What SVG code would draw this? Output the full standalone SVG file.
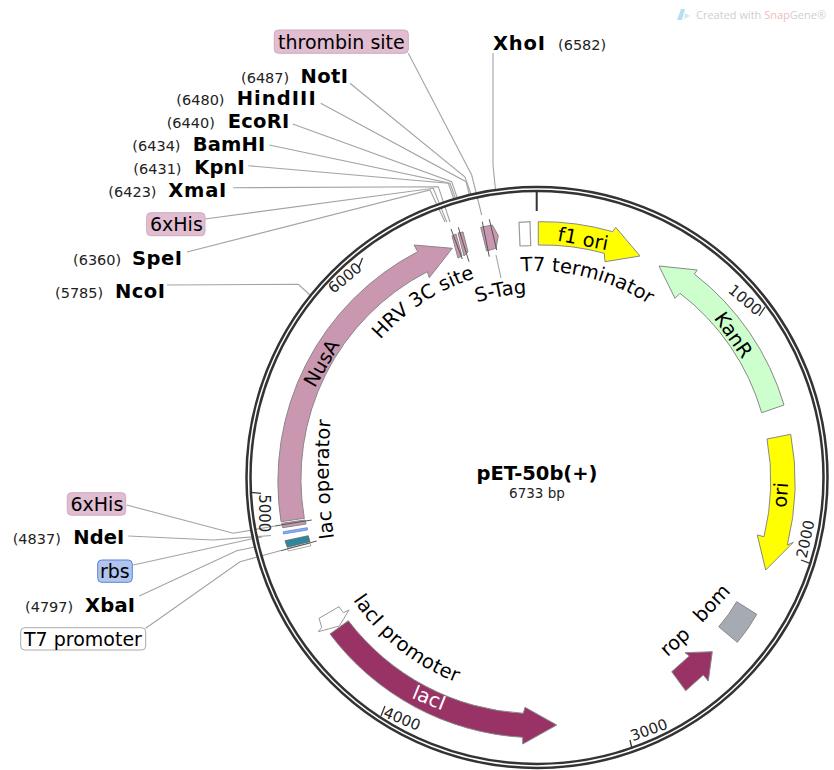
<svg xmlns="http://www.w3.org/2000/svg" width="834" height="770" viewBox="0 0 834 770">
<style>
text{font-family:"DejaVu Sans",Verdana,sans-serif;fill:#000}
.e{font-weight:bold;font-size:19.500px}
.p{font-size:14.500px;fill:#222}
.l{font-size:19.500px}
.b{font-size:19px}
.t{font-size:15px;fill:#222}
.f{stroke:#888;stroke-width:1}
.box{stroke-width:1}
.ld{fill:none;stroke:#a3a3a3;stroke-width:1.1}
.dk{fill:none;stroke:#555;stroke-width:1}
.tick{stroke:#333;stroke-width:1.3}
.m{text-anchor:middle;dominant-baseline:central}
</style>
<defs>
<path id="pT7" d="M521,271.6 A206 206 0 0 1 714.9,374"/>
<path id="pHRV" d="M380.3,339.7 A208 208 0 0 1 518.4,269.8"/>
<path id="pST" d="M477,302.500 A183 183 0 0 1 560,295"/>
<path id="pLO" d="M334,538 A500 500 0 0 1 333,400"/>
<path id="pLP" d="M353,600 A220 220 0 0 0 536.5,697"/>
</defs>
<rect width="834" height="770" fill="#fff"/>
<g id="watermark">
<path d="M677,20 L681,9 L685,9 L682,20 Z" fill="#b5e0f2"/>
<path d="M685,13 L690,16 L684,19 Z" fill="#cfe9f5"/>
<text x="696" y="18.500" font-size="11" style="font-family:'Open Sans',sans-serif;fill:#cfcfcf">Created with <tspan style="fill:#f0bcbc">Snap</tspan>Gene®</text>
</g>
<g id="connectors">
<polyline class="ld" points="408.300,53.300 471.700,175 481.700,215"/>
<polyline class="ld" points="493,53 493,165 495.500,190"/>
<polyline class="ld" points="350,83.300 465,177 472,197"/>
<polyline class="ld" points="320.700,103.300 466,181.700 470,197"/>
<polyline class="ld" points="292.700,124 451.700,181.700 458,200"/>
<polyline class="ld" points="269.300,145 450,183.300 456.700,202"/>
<polyline class="ld" points="248.300,165.700 448.300,183.300 455,202"/>
<polyline class="ld" points="233.300,187.700 438.300,186.700 450,222"/>
<polyline class="ld" points="205,219 433.300,188.300 446.700,222"/>
<polyline class="ld" points="187,252 430,190 445,222"/>
<polyline class="ld" points="167,285 298.300,284.300 310,295"/>
<line class="ld" x1="496" y1="255" x2="501" y2="278"/>
<polyline class="ld" points="126.700,505 233.300,533.300 275,526"/>
<polyline class="ld" points="128.300,536 213.300,540 271,535.500"/>
<polyline class="ld" points="133.300,565 250,539.300 262,537"/>
<polyline class="ld" points="139.300,596 236.700,550.700 255,547"/>
<polyline class="ld" points="145.700,628.300 240,561.700 281,550.500"/>
</g>
<g id="backbone">
<circle cx="537" cy="477.500" r="288.500" fill="none" stroke="#333" stroke-width="6.500"/>
<circle cx="537" cy="477.500" r="288.500" fill="none" stroke="#fff" stroke-width="1.500"/>
<line x1="536.700" y1="190" x2="536.700" y2="211" stroke="#333" stroke-width="2"/>
<line class="tick" x1="362.500" y1="258" x2="358.500" y2="268"/>
<text class="t m" transform="translate(345 278) rotate(-40)">6000</text>
<line class="tick" x1="765" y1="307" x2="759" y2="316"/>
<text class="t m" transform="translate(745 300) rotate(40)">1000</text>
<line class="tick" x1="810" y1="563.300" x2="801" y2="560"/>
<text class="t m" transform="translate(805.700 539) rotate(-78)">2000</text>
<line class="tick" x1="632" y1="749" x2="630" y2="740"/>
<text class="t m" transform="translate(649 730) rotate(-20)">3000</text>
<line class="tick" x1="385" y1="706" x2="381" y2="716"/>
<text class="t m" transform="translate(402 719) rotate(22)">4000</text>
<line class="tick" x1="250" y1="492.300" x2="261" y2="493.300"/>
<text class="t m" transform="translate(264.300 513.300) rotate(90)">5000</text>
</g>
<g id="f1-ori">
<path class="f" fill="#ffff00" d="M538.300,221.700 A255 255 0 0 1 612.700,231.700 L615.700,227.300 L640,256 L605,261.700 L604.300,253.300 A232 232 0 0 0 538.300,245 Z"/>
<text class="l m" transform="translate(583 239) rotate(11)">f1 ori</text>
</g>
<g id="KanR">
<path class="f" fill="#ccffcc" d="M784,405 A258 258 0 0 0 694.300,274 L697.300,270 L659,266 L675,298.300 L680,293.300 A232 232 0 0 1 761.700,412.700 Z"/>
<text class="l m" transform="translate(733.300 335) rotate(55)">KanR</text>
</g>
<g id="ori">
<path class="f" fill="#ffff00" d="M790.700,434.300 A258 258 0 0 1 787.300,545 L793.300,542.300 L765.700,570 L757.300,535 L764,536.700 A234 234 0 0 0 767,439 Z"/>
<text class="l m" transform="translate(780.700 495) rotate(-86)">ori</text>
</g>
<g id="bom">
<path class="f" fill="#a6abb3" d="M736.700,601.700 L756.700,614.300 Q748,630 737.300,642.300 L718.700,626.700 Q729,615 736.700,601.700 Z"/>
<text class="l m" transform="translate(711.700 603.300) rotate(-47)">bom</text>
</g>
<g id="rop">
<path class="f" fill="#993366" d="M685,652.700 L712.300,651.700 L708.300,681 L703.300,675 L685.700,690.700 L671.700,671.700 L689.300,656 Z"/>
<text class="l m" transform="translate(675 641.700) rotate(-42)">rop</text>
</g>
<g id="lacI">
<path class="f" fill="#993366" d="M348.300,620.700 A236 236 0 0 0 523.300,713.300 L525,707.300 L556.700,725 L522.700,744 L522.700,737.300 A260 260 0 0 1 330,634 Z"/>
<text class="l m" transform="translate(429 698) rotate(22)" style="fill:#fff">lacI</text>
</g>
<g id="lacI-promoter">
<path fill="#fff" stroke="#999" d="M319,618.300 L339,606.700 L343.300,612.700 L349,610 L339.300,626 L318.300,631.700 L321.700,627.300 Z"/>
<text class="l" letter-spacing=".3"><textPath href="#pLP">lacI promoter</textPath></text>
</g>
<g id="NusA">
<path class="f" fill="#c997b0" d="M281,521.700 A259 259 0 0 1 417.700,251.700 L414,245 L452.300,248.300 L429.300,277.700 L427.300,271.700 A233 233 0 0 0 304.300,518.300 Z"/>
<text class="l m" transform="translate(321.700 363.300) rotate(-60)">NusA</text>
</g>
<g id="HRV-3C-site">
<path class="f" fill="#c997b0" d="M452,236 L456,234 L462,256 L458,258 Z"/>
<path class="f" fill="#c997b0" d="M458,233 L463,232 L468,252 L464,256 Z"/>
<line class="dk" x1="451" y1="229" x2="462.300" y2="259"/>
<line class="dk" x1="458.300" y1="227.300" x2="469" y2="261.700"/>
<text class="l"><textPath href="#pHRV">HRV 3C site</textPath></text>
</g>
<g id="S-Tag">
<path class="f" fill="#c997b0" d="M480.700,227.300 L492.300,225 L498.300,235.700 L496,248.300 L486.700,251 Z"/>
<line class="dk" x1="482.300" y1="221.700" x2="489.300" y2="256.700"/>
<line class="dk" x1="489.300" y1="219.300" x2="496.700" y2="250"/>
<text class="l"><textPath href="#pST">S-Tag</textPath></text>
</g>
<g id="T7-terminator">
<path fill="#fff" stroke="#999" stroke-width="1.200" d="M519,222.300 L530,221.700 L530.700,245.700 L520,246 Z"/>
<text class="l"><textPath href="#pT7">T7 terminator</textPath></text>
</g>
<g id="lac-operator">
<path class="f" fill="#c997b0" d="M281.700,523.300 L305,520 L306,524 L282.700,527.700 Z"/>
<line class="dk" x1="275" y1="526" x2="311.700" y2="520"/>
<text class="l"><textPath href="#pLO">lac operator</textPath></text>
</g>
<g id="rbs-feature">
<path fill="#8fb0ea" stroke="#5b82d8" stroke-width=".8" d="M283.300,531.700 L307.300,527.700 L307.300,530 L283.300,534 Z"/>
</g>
<g id="T7-promoter-feature">
<path fill="#2e86a0" stroke="#666" stroke-width=".8" d="M285,540.700 L308.300,535.700 L310,541.700 L287.300,547.300 Z"/>
<path fill="#fff" stroke="#999" stroke-width=".8" d="M287.300,548.300 L310,543.300 L311,545.700 L288.300,551 Z"/>
<line class="dk" x1="281" y1="550.700" x2="316.700" y2="541"/>
</g>
<g id="label-thrombin">
<rect class="box" x="274.300" y="30" width="134" height="23.300" rx="4" fill="#e0bdd0" stroke="#d0a9bf"/>
<text class="b" x="278" y="49">thrombin site</text>
</g>
<g id="label-XhoI"><text class="e" x="493" y="50" textLength="52">XhoI</text><text class="p" x="558" y="50">(6582)</text></g>
<g id="label-NotI"><text class="p" x="241" y="83">(6487)</text><text class="e" x="300.500" y="83" textLength="47.500">NotI</text></g>
<g id="label-HindIII"><text class="p" x="176.300" y="105">(6480)</text><text class="e" x="236.700" y="105" textLength="79">HindIII</text></g>
<g id="label-EcoRI"><text class="p" x="166.700" y="128.300">(6440)</text><text class="e" x="227.700" y="128.300" textLength="61.500">EcoRI</text></g>
<g id="label-BamHI"><text class="p" x="132.300" y="151">(6434)</text><text class="e" x="192.700" y="151" textLength="72.500">BamHI</text></g>
<g id="label-KpnI"><text class="p" x="133.300" y="174.300">(6431)</text><text class="e" x="194.300" y="174.300" textLength="50.500">KpnI</text></g>
<g id="label-XmaI"><text class="p" x="108.300" y="196.700">(6423)</text><text class="e" x="168.300" y="196.700" textLength="58">XmaI</text></g>
<g id="label-6xHis-top">
<rect class="box" x="146.700" y="212.700" width="58.300" height="23" rx="4" fill="#e0bdd0" stroke="#d0a9bf"/>
<text class="b" x="150" y="231">6xHis</text>
</g>
<g id="label-SpeI"><text class="p" x="73" y="265">(6360)</text><text class="e" x="132" y="265" textLength="50">SpeI</text></g>
<g id="label-NcoI"><text class="p" x="55" y="298">(5785)</text><text class="e" x="115" y="298" textLength="50">NcoI</text></g>
<g id="label-6xHis-bottom">
<rect class="box" x="67.300" y="492.700" width="58.400" height="22.500" rx="4" fill="#e0bdd0" stroke="#d0a9bf"/>
<text class="b" x="70.500" y="511">6xHis</text>
</g>
<g id="label-NdeI"><text class="p" x="12.700" y="544">(4837)</text><text class="e" x="73.300" y="544" textLength="51">NdeI</text></g>
<g id="label-rbs">
<rect class="box" x="97.700" y="560" width="34.600" height="22.300" rx="4" fill="#b0c4ee" stroke="#5b82d8"/>
<text class="b" x="100" y="578">rbs</text>
</g>
<g id="label-XbaI"><text class="p" x="25" y="612.300">(4797)</text><text class="e" x="85" y="612.300" textLength="50">XbaI</text></g>
<g id="label-T7-promoter">
<rect class="box" x="20.700" y="627.700" width="125" height="22.300" rx="4" fill="#fff" stroke="#aaa"/>
<text class="b" x="24" y="646">T7 promoter</text>
</g>
<g id="title">
<text x="537" y="480" text-anchor="middle" font-weight="bold" font-size="19.500">pET-50b(+)</text>
<text x="537" y="498" text-anchor="middle" font-size="13.500" style="fill:#222">6733 bp</text>
</g>
</svg>
